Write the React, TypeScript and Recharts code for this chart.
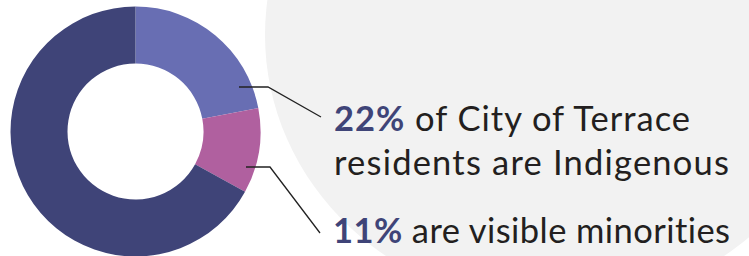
import React from 'react';
import { PieChart, Pie, Cell } from 'recharts';

const categories = ['Indigenous', 'Visible minorities', 'Other'];
const values = [22, 11, 67];
const colors = ['#686eb3', '#b0609f', '#3f4478'];
const calloutPercents = ['22%', '11%'];
const calloutLines = [
  [' of City of Terrace', 'residents are Indigenous'],
  [' are visible minorities'],
];

const data = categories.map((name, i) => ({ name, value: values[i] }));

const W = 749;
const H = 256;
const FONT = 'Lato, "Open Sans", sans-serif';
const FS = 34.5;
const textStyle: React.CSSProperties = { fontVariantLigatures: 'none', fontFeatureSettings: '"liga" 0, "clig" 0' };

export default function App() {
  return (
    <div style={{ position: 'fixed', left: 0, top: 0, width: W, height: H, background: '#fff' }}>
      <svg width={W} height={H} style={{ position: 'absolute', left: 0, top: 0 }}>
        <ellipse cx={555} cy={35} rx={290} ry={272} fill="#f2f2f2" />
      </svg>
      <div style={{ position: 'absolute', left: 0, top: 0 }}>
        <PieChart width={W} height={H} margin={{ top: 0, right: 0, bottom: 0, left: 0 }}>
          <Pie
            data={data}
            dataKey="value"
            nameKey="name"
            cx={135.5}
            cy={131.5}
            innerRadius={68}
            outerRadius={125}
            startAngle={90}
            endAngle={-270}
            stroke="none"
            isAnimationActive={false}
          >
            {data.map((d, i) => (
              <Cell key={d.name} fill={colors[i]} />
            ))}
          </Pie>
        </PieChart>
      </div>
      <svg width={W} height={H} style={{ position: 'absolute', left: 0, top: 0, pointerEvents: 'none' }}>
        <polyline points="239,87 268,87 321,117" fill="none" stroke="#222" strokeWidth={1.3} />
        <polyline points="246,167 270,167 320,233" fill="none" stroke="#222" strokeWidth={1.3} />
        <text x={334} y={131} fontFamily={FONT} fontSize={FS} fill="#231f20" textLength={356} lengthAdjust="spacing" style={textStyle}>
          <tspan fontWeight={700} fill="#3f4478">{calloutPercents[0]}</tspan>
          <tspan>{calloutLines[0][0]}</tspan>
        </text>
        <text x={334} y={175} fontFamily={FONT} fontSize={FS} fill="#231f20" textLength={395} lengthAdjust="spacing" style={textStyle}>
          {calloutLines[0][1]}
        </text>
        <text x={333} y={243} fontFamily={FONT} fontSize={FS} fill="#231f20" textLength={397} lengthAdjust="spacing" style={textStyle}>
          <tspan fontWeight={700} fill="#3f4478">{calloutPercents[1]}</tspan>
          <tspan>{calloutLines[1][0]}</tspan>
        </text>
      </svg>
    </div>
  );
}
